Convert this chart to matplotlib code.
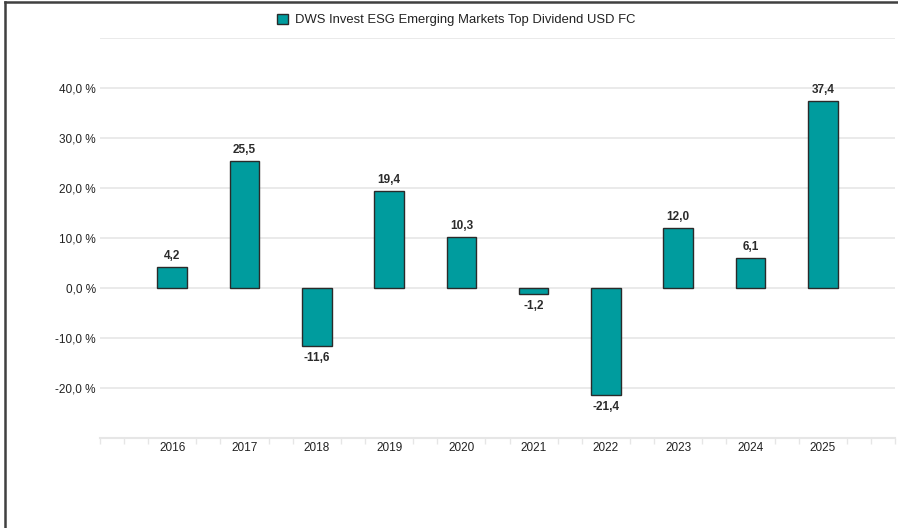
import matplotlib
matplotlib.use("Agg")
import matplotlib.pyplot as plt
from matplotlib.lines import Line2D
from matplotlib.patches import Patch
import numpy as np

plt.rcParams["font.family"] = ["Liberation Sans", "DejaVu Sans"]

# --------------------------
# Data
# --------------------------
years = ["2016", "2017", "2018", "2019", "2020", "2021", "2022", "2023", "2024", "2025"]
returns = [4.2, 25.5, -11.6, 19.4, 10.3, -1.2, -21.4, 12.0, 6.1, 37.4]
series_name = "DWS Invest ESG Emerging Markets Top Dividend USD FC"

BAR_COLOR = "#009C9E"
GRID_COLOR = "#e6e6e6"
TEXT_COLOR = "#222222"

fig = plt.figure(figsize=(8.98, 5.28), dpi=100)
ax = fig.add_axes([100 / 898, 90 / 528, 795 / 898, 400 / 528])

x = np.arange(len(years))
ax.bar(x, returns, width=0.41, color=BAR_COLOR, edgecolor="#2a2a2a", linewidth=1.0, zorder=3)

# value labels
for xi, v in zip(x, returns):
    lbl = f"{v:.1f}".replace(".", ",")
    if v >= 0:
        ax.annotate(lbl, (xi, v), xytext=(0, 3.5), textcoords="offset points",
                    ha="center", va="bottom", fontsize=8.5, fontweight="bold", color="#2b2b2b")
    else:
        ax.annotate(lbl, (xi, v), xytext=(0, -4), textcoords="offset points",
                    ha="center", va="top", fontsize=8.5, fontweight="bold", color="#2b2b2b")

# --------------------------
# Axes styling
# --------------------------
ax.set_xlim(-1, 10)
ax.set_ylim(-30, 50)

for y in range(-20, 60, 10):
    ax.axhline(y, color=GRID_COLOR, linewidth=1.2, zorder=1)

ax.set_yticks(range(-20, 50, 10))
ax.set_yticklabels([f"{t:.1f} %".replace(".", ",") for t in range(-20, 50, 10)])
ax.tick_params(axis="y", length=0, pad=3, labelsize=8.5, labelcolor=TEXT_COLOR)

ax.set_xticks(x)
ax.set_xticklabels(years)
ax.tick_params(axis="x", which="major", length=0, pad=3, labelsize=8.5, labelcolor=TEXT_COLOR)
minor = [-1] + [i + d for i in range(-1, 10) for d in (1 / 3, 2 / 3)] + [10]
ax.set_xticks(minor, minor=True)
ax.tick_params(axis="x", which="minor", length=4, width=1, color=GRID_COLOR, direction="out")

for s in ["top", "right", "left"]:
    ax.spines[s].set_visible(False)
ax.spines["bottom"].set_color(GRID_COLOR)
ax.spines["bottom"].set_linewidth(1.5)

# legend
handle = Patch(facecolor=BAR_COLOR, edgecolor="#2a2a2a", linewidth=1.0)
fig.legend([handle], [series_name], loc="center", bbox_to_anchor=(456 / 898, 1 - 20 / 528),
           frameon=False, fontsize=9.4, handlelength=0.85, handleheight=0.85, handletextpad=0.5,
           labelcolor=TEXT_COLOR)

# outer frame (top and left visible)
fig.add_artist(Line2D([4.5 / 898, 4.5 / 898], [0, 1 - 1.5 / 528], color="#404040", linewidth=1.8))
fig.add_artist(Line2D([4.5 / 898, 1], [1 - 1.5 / 528, 1 - 1.5 / 528], color="#404040", linewidth=1.8))

plt.savefig("out.png", dpi=100)
